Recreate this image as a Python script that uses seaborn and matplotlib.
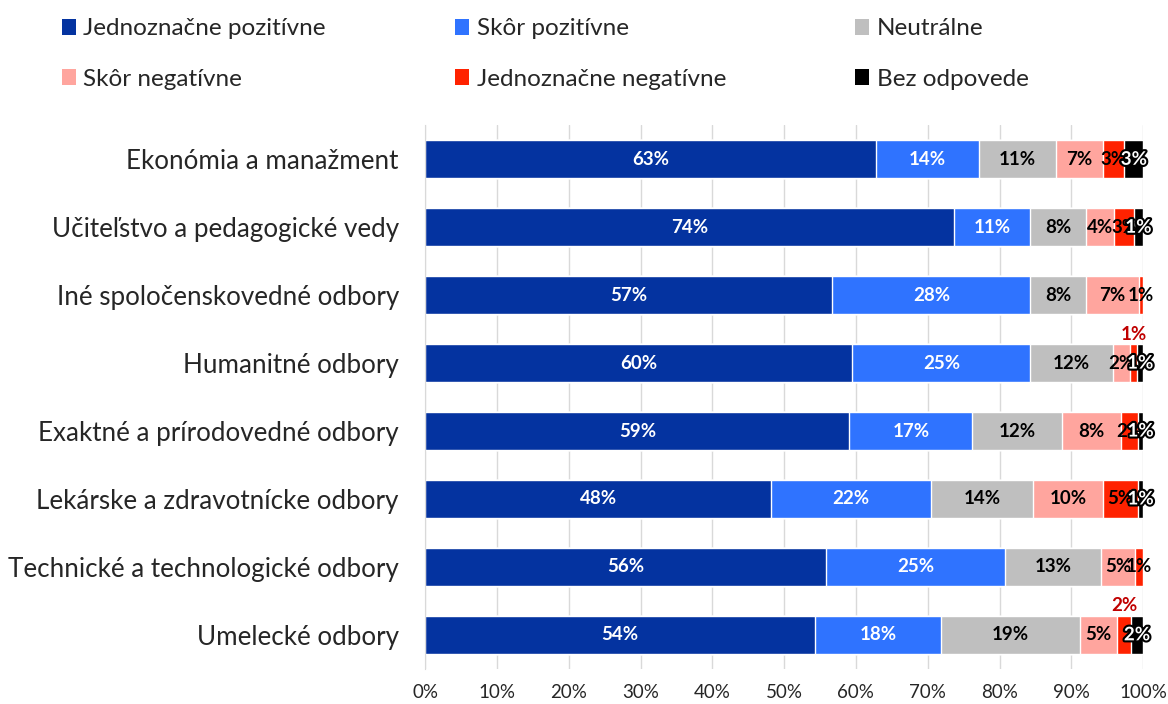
import numpy as np
import pandas as pd
import seaborn as sns
import matplotlib.pyplot as plt
import matplotlib.patheffects as pe
from matplotlib.patches import Patch

# hodnoty odčítané z grafu (v %)
odbory = [
    "Ekonómia a manažment",
    "Učiteľstvo a pedagogické vedy",
    "Iné spoločenskovedné odbory",
    "Humanitné odbory",
    "Exaktné a prírodovedné odbory",
    "Lekárske a zdravotnícke odbory",
    "Technické a technologické odbory",
    "Umelecké odbory",
]
jednoznacne_pozitivne = [62.8, 73.7, 56.7, 59.5, 59.1, 48.2, 55.8, 54.3]
skor_pozitivne = [14.4, 10.6, 27.6, 24.8, 17.1, 22.3, 25.0, 17.6]
neutralne = [10.6, 7.8, 7.8, 11.5, 12.5, 14.2, 13.4, 19.3]
skor_negativne = [6.6, 3.9, 7.3, 2.4, 8.2, 9.7, 4.6, 5.2]
jednoznacne_negativne = [3.0, 2.7, 0.6, 1.0, 2.4, 4.9, 1.2, 1.9]
bez_odpovede = [2.6, 1.3, 0.0, 0.8, 0.7, 0.7, 0.0, 1.7]

kategorie = ["Jednoznačne pozitívne", "Skôr pozitívne", "Neutrálne",
             "Skôr negatívne", "Jednoznačne negatívne", "Bez odpovede"]
farby = ["#0433A0", "#2F73FF", "#BFBFBF", "#FFA59E", "#FF2200", "#000000"]
farby_textu = ["white", "white", "black", "black", "black", "white"]
# riadky, kde je popis červeného segmentu nad stĺpcom
nad_stlpcom = ["Humanitné odbory", "Umelecké odbory"]

df = pd.DataFrame({
    kategorie[0]: jednoznacne_pozitivne,
    kategorie[1]: skor_pozitivne,
    kategorie[2]: neutralne,
    kategorie[3]: skor_negativne,
    kategorie[4]: jednoznacne_negativne,
    kategorie[5]: bez_odpovede,
}, index=odbory)
kum = df.cumsum(axis=1)

sns.set_style("white")
plt.rcParams['font.family'] = ['Lato', 'DejaVu Sans']

fig = plt.figure(figsize=(11.68, 7.04), dpi=100)
ax = fig.add_axes([0.364, 0.050, 0.6147, 0.772])

# skladané stĺpce: kreslíme kumulatívne súčty od posledného
for kat, farba in zip(reversed(kategorie), reversed(farby)):
    sns.barplot(x=kum[kat].values, y=odbory, orient="h", color=farba,
                saturation=1, width=0.56, ax=ax, zorder=2)

# popisy hodnôt
for i, kat in enumerate(kategorie):
    for j, odbor in enumerate(odbory):
        v = df.loc[odbor, kat]
        if v <= 0:
            continue
        stred = kum.loc[odbor, kat] - v / 2
        txt = f"{v:.0f}%"
        if i == 4 and odbor in nad_stlpcom:
            ax.text(stred, j - 0.30, txt, ha="center", va="bottom",
                    color="#C00000", fontsize=13.5, fontweight="bold", zorder=5)
            continue
        t = ax.text(stred, j, txt, ha="center", va="center",
                    color=farby_textu[i], fontsize=13.5, fontweight="bold", zorder=5)
        if i == 5:
            t.set_path_effects([pe.withStroke(linewidth=3, foreground="black")])

ax.set_xlim(0, 100)
ax.set_xticks(np.arange(0, 101, 10))
ax.set_xticklabels([f"{v}%" for v in range(0, 101, 10)], fontsize=13.5)
ax.tick_params(axis="y", labelsize=18.7, length=0, pad=19)
ax.tick_params(axis="x", length=0, pad=11)
ax.set_xlabel("")
ax.set_ylabel("")
ax.set_axisbelow(True)
ax.xaxis.grid(True, color="#D9D9D9", linewidth=1)
for s in ["top", "right", "bottom"]:
    ax.spines[s].set_visible(False)
ax.spines["left"].set_color("#D9D9D9")

# legenda (plní sa po stĺpcoch)
handles = [Patch(facecolor=c, edgecolor="none", label=k) for k, c in zip(kategorie, farby)]
poradie = [0, 3, 1, 4, 2, 5]
fig.legend([handles[k] for k in poradie], [kategorie[k] for k in poradie],
           ncol=3, loc="upper left", bbox_to_anchor=(0.034, 1.005), frameon=False,
           fontsize=17.5, handlelength=0.6, handleheight=0.6, handletextpad=0.3,
           columnspacing=5.3, labelspacing=1.2)

plt.savefig("out.png", dpi=100)
